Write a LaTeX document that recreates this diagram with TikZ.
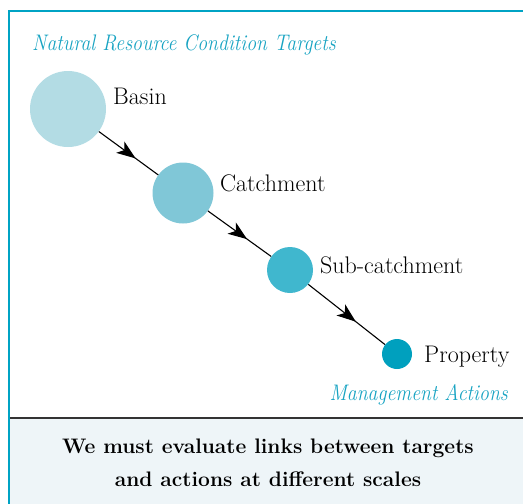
\documentclass[tikz,border=0pt]{standalone}
\usetikzlibrary{arrows.meta,decorations.markings}
\definecolor{tealline}{HTML}{00A3C4}
\definecolor{tealtext}{HTML}{17A3C2}
\definecolor{cA}{HTML}{B3DCE4}
\definecolor{cB}{HTML}{80C7D7}
\definecolor{cC}{HTML}{40B7CE}
\definecolor{cD}{HTML}{00A0BE}
\definecolor{panel}{HTML}{EEF5F8}
\tikzset{
  disc/.style={circle,inner sep=0pt,draw=none},
  lbl/.style={anchor=base west,inner sep=0pt,font=\fontsize{24}{28}\selectfont},
  ttl/.style={inner sep=0pt,text=tealtext,font=\fontsize{22.5}{26}\selectfont\itshape,xscale=0.88,transform shape},
  midarrow/.style={draw,line width=1.1pt,postaction={decorate},
    decoration={markings,mark=at position 0.62 with {\arrow{Stealth[length=19pt,width=14pt,inset=5pt]}}}}
}
\begin{document}
\begin{tikzpicture}[x=1pt,y=-1pt]
\useasboundingbox (0,0) rectangle (523,504);
% bottom panel
\fill[panel] (10,418) rectangle (523,504);
\draw[line width=2pt,black!80] (10,418) -- (523,418);
% frame
\draw[tealline,line width=2.6pt] (9,504) -- (9,11) -- (523,11);
% titles
\node[ttl,anchor=base west] (top) at (32,50) {Natural Resource Condition Targets};
\node[ttl,anchor=base east] (bot) at (508,400) {Management Actions};
% circles
\node[disc,fill=cA,minimum size=76pt] (basin) at (68,109) {};
\node[disc,fill=cB,minimum size=61pt] (catch) at (183,193) {};
\node[disc,fill=cC,minimum size=46pt] (sub) at (290,270) {};
\node[disc,fill=cD,minimum size=30pt] (prop) at (397,354) {};
% labels
\node[lbl] (lbasin) at (113,104) {Basin};
\node[lbl] (lcatch) at (220,191) {Catchment};
\node[lbl] (lsub) at (320,273) {Sub-catchment};
\node[lbl] (lprop) at (424,362) {Property};
% connectors
\path[midarrow] (basin) -- (catch);
\path[midarrow] (catch) -- (sub);
\path[midarrow] (sub) -- (prop);
% bottom text
\node[inner sep=0pt,align=center,font=\fontsize{21}{33}\selectfont\bfseries] (msg) at (268,463)
  {We must evaluate links between targets\\and actions at different scales};
\end{tikzpicture}
\end{document}
